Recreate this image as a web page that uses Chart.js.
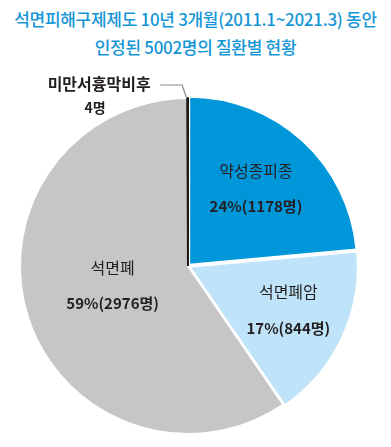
<!DOCTYPE html>
<html>
<head>
<meta charset="utf-8">
<script src="https://cdn.jsdelivr.net/npm/chart.js@4"></script>
<style>
    body { margin: 0; background: #fff; font-family: "Noto Sans CJK KR", sans-serif; }
    #wrapper { position: relative; width: 391px; height: 447px; overflow: hidden; }
    .title { position: absolute; left: 0; width: 391px; text-align: center; color: #1596d6; font-size: 17px; font-weight: 500; letter-spacing: -0.3px; white-space: nowrap; }
    #graph { position: absolute; left: 0; top: 0; }
</style>
</head>
<body>
<div id="wrapper">
    <div class="title" style="top: 6px;">석면피해구제제도 10년 3개월(2011.1~2021.3) 동안</div>
    <div class="title" style="top: 34px;">인정된 5002명의 질환별 현황</div>
    <canvas id="graph" width="391" height="447"></canvas>
</div>
<script>
const labels = ["약성종피종", "석면폐암", "석면폐", "미만서흉막비후"];
const counts = [1178, 844, 2976, 4];
const percents = ["24%", "17%", "59%", ""];
const colors = ["#0097da", "#bfe3f8", "#c6c6c6", "#1a1a1a"];
const borders = ["#ffffff", "#ffffff", "#ffffff", "#1a1a1a"];
const offsets = [7, 7, 0, 0];

/* draws the names and shares on top of the slices */
const sliceLabels = {
    id: "sliceLabels",
    afterDatasetsDraw(chart) {
        const ctx = chart.ctx;
        const arcs = chart.getDatasetMeta(0).data;
        const radius_factor = [0.6, 0.66, 0.47];
        const shift_y = [-3, -3, -4];
        ctx.save();
        ctx.fillStyle = "#231f20";
        ctx.textAlign = "center";
        ctx.textBaseline = "middle";
        for (let i = 0; i < 3; i++) {
            const arc = arcs[i];
            const mid = (arc.startAngle + arc.endAngle) / 2;
            const r = arc.outerRadius * radius_factor[i];
            const x = arc.x + Math.cos(mid) * r;
            const y = arc.y + Math.sin(mid) * r + shift_y[i];
            ctx.font = "16px 'Noto Sans CJK KR'";
            ctx.fillText(labels[i], x, y - 18);
            ctx.font = "bold 15px 'Noto Sans CJK KR'";
            ctx.fillText(percents[i] + "(" + counts[i] + "명)", x, y + 18);
        }

        /* small slice: label outside with a leader line */
        const tiny = arcs[3];
        const top_x = tiny.x + Math.cos(tiny.startAngle) * tiny.outerRadius;
        const top_y = tiny.y + Math.sin(tiny.startAngle) * tiny.outerRadius;
        ctx.strokeStyle = "#8a8a8a";
        ctx.lineWidth = 1.2;
        ctx.beginPath();
        ctx.moveTo(top_x - 1, top_y - 1);
        ctx.lineTo(top_x - 5, top_y - 13);
        ctx.lineTo(top_x - 27, top_y - 13);
        ctx.stroke();
        ctx.font = "bold 16px 'Noto Sans CJK KR'";
        ctx.fillText(labels[3], top_x - 88, top_y - 14);
        ctx.font = "bold 14px 'Noto Sans CJK KR'";
        ctx.fillText(counts[3] + "명", top_x - 92, top_y + 10);
        ctx.restore();
    },
};

const ctx = document.getElementById("graph");
const graph = new Chart(ctx, {
    type: "pie",
    data: {
        labels: labels,
        datasets: [
            {
                data: counts,
                backgroundColor: colors,
                borderColor: borders,
                borderWidth: 2,
                offset: offsets,
            },
        ],
    },
    options: {
        responsive: false,
        animation: false,
        radius: 168,
        layout: { padding: { left: 10, right: 25, top: 90, bottom: 5 } },
        plugins: {
            legend: { display: false },
            tooltip: { enabled: false },
        },
    },
    plugins: [sliceLabels],
});
</script>
</body>
</html>
